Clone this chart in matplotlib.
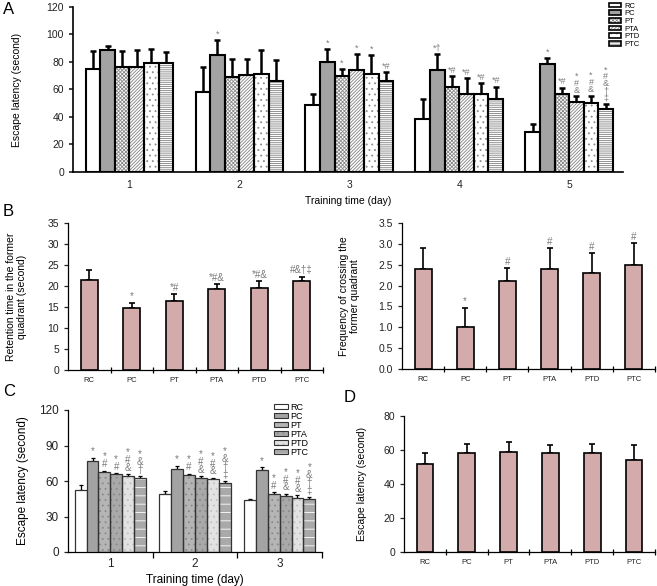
import numpy as np
import matplotlib
matplotlib.use("Agg")
import matplotlib.pyplot as plt
from matplotlib.patches import Patch
from matplotlib.legend_handler import HandlerTuple

plt.rcParams['font.family'] = ['Liberation Sans', 'DejaVu Sans']
plt.rcParams['hatch.linewidth'] = 0.6

groups = ['RC', 'PC', 'PT', 'PTA', 'PTD', 'PTC']

# Panel A - escape latency over 5 training days
days_a = [1, 2, 3, 4, 5]
a_rc = [75.2, 58.0, 48.5, 38.6, 29.3]
a_pc = [88.6, 85.0, 80.0, 74.0, 78.4]
a_pt = [76.2, 69.0, 69.9, 61.6, 57.0]
a_pta = [76.0, 70.5, 74.0, 56.8, 51.0]
a_ptd = [79.0, 71.5, 71.6, 56.8, 50.5]
a_ptc = [79.5, 66.5, 66.5, 53.2, 45.6]
a_rc_err = [12.8, 18.0, 8.0, 14.3, 5.9]
a_pc_err = [3.1, 11.0, 9.5, 12.0, 4.6]
a_pt_err = [11.8, 13.5, 5.1, 8.0, 4.4]
a_pta_err = [13.0, 11.5, 12.0, 11.4, 4.0]
a_ptd_err = [10.5, 17.0, 13.4, 8.0, 5.1]
a_ptc_err = [7.5, 15.0, 6.0, 8.9, 3.9]
a_rc_sig = ['', '', '', '', '']
a_pc_sig = ['', '*', '*', '*†', '*']
a_pt_sig = ['', '', '*', '*#', '*#']
a_pta_sig = ['', '', '*', '*#', '*\n#\n&']
a_ptd_sig = ['', '', '*', '*#', '*\n#\n&']
a_ptc_sig = ['', '', '*#', '*#', '*\n#\n&\n†\n‡']

# Panel B - probe trial
b_time = [21.5, 14.7, 16.4, 19.3, 19.6, 21.1]
b_time_err = [2.4, 1.3, 1.7, 1.1, 1.6, 1.1]
b_time_sig = ['', '*', '*#', '*#&', '*#&', '#&†‡']
b_freq = [2.4, 1.0, 2.1, 2.4, 2.3, 2.5]
b_freq_err = [0.5, 0.47, 0.32, 0.5, 0.48, 0.52]
b_freq_sig = ['', '*', '#', '#', '#', '#']

# Panel C - escape latency, 3 days
days_c = [1, 2, 3]
c_rc = [52.8, 49.4, 44.0]
c_pc = [76.8, 70.3, 69.2]
c_pt = [67.5, 64.7, 48.9]
c_pta = [65.8, 62.7, 47.2]
c_ptd = [64.1, 61.3, 45.8]
c_ptc = [62.7, 58.5, 44.4]
c_rc_err = [3.5, 2.5, 0.8]
c_pc_err = [2.8, 2.5, 2.5]
c_pt_err = [1.2, 1.5, 1.5]
c_pta_err = [1.0, 1.3, 2.0]
c_ptd_err = [1.8, 1.5, 2.3]
c_ptc_err = [1.5, 1.5, 2.0]
c_rc_sig = ['', '', '']
c_pc_sig = ['*', '*', '*']
c_pt_sig = ['*\n#', '*\n#', '*\n#']
c_pta_sig = ['*\n#', '*\n#\n&', '*\n#\n&']
c_ptd_sig = ['*\n#\n&', '*\n#\n&', '*\n#\n&']
c_ptc_sig = ['*\n&\n†', '*\n&\n†\n‡', '*\n&\n†\n‡']

# Panel D - visible platform
d_lat = [51.5, 58.4, 59.1, 58.4, 58.2, 54.0]
d_lat_err = [6.9, 5.1, 5.5, 4.3, 5.1, 8.7]

W, H = 657, 586
PINK = '#d4abab'
SIG_COLOR = '#7a7a7a'

# (face, hatch, hatch colour) for each group
style_a = [('white', None, None), ('#a3a3a3', None, None),
           ('white', 'xxxxxxxxx', '#8a8a8a'), ('white', '//////////', '#808080'),
           ('white', '...', '#8c8c8c'), ('white', '--------', '#7f7f7f')]
style_c = [('white', None, None), ('#a3a3a3', None, None),
           ('#b5b5b5', '...', '#8a8a8a'), ('#a9a9a9', '...', '#8a8a8a'),
           ('#e2e2e2', '...', '#c0c0c0'), ('#a9a9a9', '--', 'white')]


def box(l, t, r, b):
    return [l / W, 1 - b / H, (r - l) / W, (b - t) / H]


def clean(ax, lw=1.0):
    for s in ['top', 'right']:
        ax.spines[s].set_visible(False)
    for s in ['left', 'bottom']:
        ax.spines[s].set_linewidth(lw)
    ax.tick_params(direction='out', length=3, width=lw, colors='#222222')


def hatched_bars(ax, x, h, w, st, edge, lw):
    face, hatch, hcol = st
    if hatch:
        ax.bar(x, h, w, color=face, hatch=hatch, edgecolor=hcol, linewidth=0, zorder=2)
        ax.bar(x, h, w, fill=False, edgecolor=edge, linewidth=lw, zorder=3)
    else:
        ax.bar(x, h, w, color=face, edgecolor=edge, linewidth=lw, zorder=3)


def up_err(ax, x, h, e, lw, cap):
    ax.errorbar(x, h, yerr=[np.zeros(len(e)), e], fmt='none', ecolor='black',
                elinewidth=lw, capsize=cap, capthick=lw, zorder=1)


def put_sig(ax, x, tops, marks, size, gap=1.0):
    for xi, t, m in zip(x, tops, marks):
        if m:
            ax.annotate(m, (xi, t), xytext=(0, gap), textcoords='offset points',
                        ha='center', va='bottom', fontsize=size, color=SIG_COLOR,
                        linespacing=0.72)


def grouped(ax, days, means, errs, sigs, styles, width, edge, lw, elw, cap, sigsize):
    days = np.array(days, dtype=float)
    for i in range(len(groups)):
        x = days + (i - 2.5) * width
        hatched_bars(ax, x, means[i], width, styles[i], edge, lw)
        up_err(ax, x, means[i], errs[i], elw, cap)
        tops = np.array(means[i]) + np.array(errs[i])
        put_sig(ax, x, tops, sigs[i], sigsize)


def legend_handles(styles, edge, lw):
    hs = []
    for face, hatch, hcol in styles:
        if hatch:
            hs.append((Patch(facecolor=face, hatch=hatch, edgecolor=hcol, linewidth=0),
                       Patch(fill=False, edgecolor=edge, linewidth=lw)))
        else:
            hs.append(Patch(facecolor=face, edgecolor=edge, linewidth=lw))
    return hs


def category_panel(ax, vals, errs, sigs, ymax, ystep, fmt):
    x = np.arange(len(groups))
    ax.bar(x, vals, 0.4, color=PINK, edgecolor='black', linewidth=1.2, zorder=3)
    up_err(ax, x, vals, errs, 1.2, 2.5)
    if sigs:
        put_sig(ax, x, np.array(vals) + np.array(errs), sigs, 7)
    ax.set_xlim(-0.5, len(groups) - 0.5)
    ax.set_ylim(0, ymax)
    ax.set_yticks(np.arange(0, ymax + ystep / 2, ystep))
    ax.yaxis.set_major_formatter(plt.FormatStrFormatter(fmt))
    ax.set_xticks(x)
    ax.set_xticklabels(groups, fontsize=5.5)
    ax.set_xticks(np.arange(0.5, len(groups), 1.0), minor=True)
    clean(ax, 0.9)
    ax.tick_params(axis='x', which='major', length=0, pad=5)
    ax.tick_params(axis='x', which='minor', length=4, width=0.9, direction='inout')
    ax.tick_params(axis='y', labelsize=7.5)


def main():
    fig = plt.figure(figsize=(W / 100, H / 100), dpi=100)

    # ---- A ----
    ax = fig.add_axes(box(73, 7, 623, 172))
    means = [a_rc, a_pc, a_pt, a_pta, a_ptd, a_ptc]
    errs = [a_rc_err, a_pc_err, a_pt_err, a_pta_err, a_ptd_err, a_ptc_err]
    sigs = [a_rc_sig, a_pc_sig, a_pt_sig, a_pta_sig, a_ptd_sig, a_ptc_sig]
    grouped(ax, days_a, means, errs, sigs, style_a, 0.133, 'black', 1.5, 1.8, 2.5, 6.5)
    ax.set_xlim(0.486, 5.49)
    ax.set_ylim(0, 120)
    ax.set_yticks(range(0, 121, 20))
    ax.set_xticks(days_a)
    clean(ax, 1.2)
    ax.tick_params(axis='x', length=0, pad=6)
    ax.tick_params(labelsize=7.5)
    ax.set_ylabel('Escape latency (second)', fontsize=7.5)
    ax.yaxis.set_label_coords(-0.093, 0.5)
    ax.set_xlabel('Training time (day)', fontsize=7.5)
    ax.xaxis.set_label_coords(0.5, -0.145)
    fig.legend(legend_handles(style_a, 'black', 1.2), groups,
               handler_map={tuple: HandlerTuple(ndivide=1)},
               loc='upper left', bbox_to_anchor=(604 / W, 1.003), frameon=False,
               fontsize=5.5, handlelength=1.6, handleheight=0.55, labelspacing=0.08,
               handletextpad=0.5, borderpad=0.1)

    # ---- B ----
    ax = fig.add_axes(box(68, 223, 323, 370))
    category_panel(ax, b_time, b_time_err, b_time_sig, 35, 5, '%d')
    ax.set_ylabel('Retention time in the former\nquadrant (second)', fontsize=7.5,
                  linespacing=1.1)
    ax.yaxis.set_label_coords(-0.16, 0.5)

    ax = fig.add_axes(box(402, 223, 655, 369))
    category_panel(ax, b_freq, b_freq_err, b_freq_sig, 3.5, 0.5, '%.1f')
    ax.set_ylabel('Frequency of crossing the\nformer quadrant', fontsize=7.5,
                  linespacing=1.1)
    ax.yaxis.set_label_coords(-0.166, 0.5)

    # ---- C ----
    ax = fig.add_axes(box(68, 410, 322, 552))
    means = [c_rc, c_pc, c_pt, c_pta, c_ptd, c_ptc]
    errs = [c_rc_err, c_pc_err, c_pt_err, c_pta_err, c_ptd_err, c_ptc_err]
    sigs = [c_rc_sig, c_pc_sig, c_pt_sig, c_pta_sig, c_ptd_sig, c_ptc_sig]
    grouped(ax, days_c, means, errs, sigs, style_c, 0.14, '#333333', 0.9, 0.9, 1.5, 7)
    ax.set_xlim(0.5, 3.5)
    ax.set_ylim(0, 120)
    ax.set_yticks(range(0, 121, 30))
    ax.set_xticks(days_c)
    ax.set_xticks([1.5, 2.5, 3.5], minor=True)
    clean(ax, 0.9)
    ax.tick_params(axis='x', which='major', length=0, pad=4)
    ax.tick_params(axis='x', which='minor', length=4, width=0.9)
    ax.tick_params(labelsize=8.5)
    ax.set_ylabel('Escape latency (second)', fontsize=8.5)
    ax.yaxis.set_label_coords(-0.154, 0.5)
    ax.set_xlabel('Training time (day)', fontsize=8.5)
    ax.xaxis.set_label_coords(0.5, -0.155)
    ax.legend(legend_handles(style_c, '#333333', 0.8), groups,
              handler_map={tuple: HandlerTuple(ndivide=1)},
              loc='upper left', bbox_to_anchor=(0.79, 1.09), frameon=False,
              fontsize=6.5, handlelength=1.5, handleheight=0.6, labelspacing=0.0,
              handletextpad=0.3, borderpad=0.1)

    # ---- D ----
    ax = fig.add_axes(box(404, 416, 655, 552))
    category_panel(ax, d_lat, d_lat_err, None, 80, 20, '%d')
    ax.set_ylabel('Escape latency (second)', fontsize=7.5)
    ax.yaxis.set_label_coords(-0.149, 0.5)

    # panel letters
    fig.text(3 / W, 1 - 2 / H, 'A', fontsize=12, va='top')
    fig.text(3 / W, 1 - 204 / H, 'B', fontsize=12, va='top')
    fig.text(3 / W, 1 - 384 / H, 'C', fontsize=12, va='top')
    fig.text(344 / W, 1 - 390 / H, 'D', fontsize=12, va='top')

    fig.savefig('out.png', dpi=100)


if __name__ == "__main__":
    main()
